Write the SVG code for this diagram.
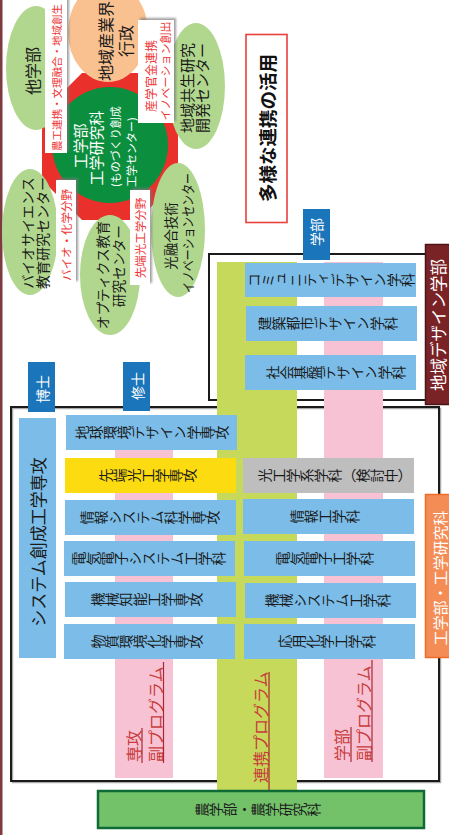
<svg xmlns="http://www.w3.org/2000/svg" width="449" height="835" viewBox="0 0 449 835">
<defs>
<style>
.j{font-family:"Noto Sans CJK JP","Noto Sans CJK SC",sans-serif;}
.v{writing-mode:vertical-rl;text-anchor:middle;font-size:14px;fill:#1a1a1a;}
.h{text-anchor:middle;dominant-baseline:central;}
.lg{fill:#b1d78e;}
.bx{fill:#7bbde8;}
.tab{fill:#1b75bb;}
.wl{fill:#fff;filter:url(#sh);}
.rt{fill:#ee3535;}
.pt{fill:#c83c3c;}
.ul{stroke:#a8282e;stroke-width:1.2;}
</style>
<filter id="sh" x="-30%" y="-10%" width="160%" height="120%">
<feDropShadow dx="2" dy="-2" stdDeviation="1.2" flood-color="#777" flood-opacity="0.7"/>
</filter>
</defs>
<rect x="0" y="0" width="449" height="835" fill="#fff"/>
<rect x="0" y="0" width="2.5" height="835" fill="#7d3a3f"/>

<g id="hub">
<polygon points="82,73 138,73 178,113 178,180 138,220 82,220 42,180 42,113" fill="#e9302a"/>
<circle cx="110" cy="145" r="58" fill="#0b8f3f"/>
<g class="j" fill="#fff">
<text class="h" font-size="15" transform="translate(79,146) rotate(-90)">工学部</text>
<text class="h" font-size="15" transform="translate(95,148) rotate(-90)">工学研究科</text>
<text font-size="11" dominant-baseline="central" transform="translate(115,187) rotate(-90)">(ものづくり創成</text>
<text font-size="11" dominant-baseline="central" transform="translate(131,187) rotate(-90)">工学センター)</text>
</g>
</g>

<g id="tagakubu">
<ellipse class="lg" cx="36" cy="68" rx="30" ry="62"/>
<text class="j h" font-size="16" fill="#1a1a1a" transform="translate(32,71) rotate(-90)">他学部</text>
</g>
<g id="chiiki-sangyo">
<ellipse cx="108" cy="32" rx="40" ry="50" fill="#f9c090"/>
<text class="j h" font-size="16" fill="#1a1a1a" transform="translate(115,41) rotate(-90)"><tspan x="0" y="-10">地域産業界</tspan><tspan x="0" y="10">行政</tspan></text>
</g>
<g id="kyosei">
<ellipse class="lg" cx="196" cy="86" rx="29" ry="63"/>
<text class="j h" font-size="15" fill="#1a1a1a" transform="translate(193.5,88) rotate(-90)"><tspan x="0" y="-7.5">地域共生研究</tspan><tspan x="0" y="7.5">開発センター</tspan></text>
</g>
<g id="bio">
<ellipse class="lg" cx="30" cy="232" rx="28" ry="63"/>
<text class="j h" font-size="14" fill="#1a1a1a" transform="translate(34.5,233) rotate(-90)"><tspan x="0" y="-7.5">バイオサイエンス</tspan><tspan x="0" y="7.5">教育研究センター</tspan></text>
</g>
<g id="optics">
<ellipse class="lg" cx="110" cy="275" rx="30" ry="60"/>
<text class="j" font-size="13.7" fill="#1a1a1a" text-anchor="end" dominant-baseline="central" transform="translate(110,221) rotate(-90)"><tspan x="0" y="-8">オプティクス教育</tspan><tspan x="-4" y="8">研究センター</tspan></text>
</g>
<g id="hikari">
<ellipse class="lg" cx="178" cy="230" rx="27" ry="67"/>
<text class="j h" font-size="13.5" fill="#1a1a1a" transform="translate(170,236) rotate(-90)">光融合技術</text>
<text class="j h" font-size="13.5" fill="#1a1a1a" textLength="120" lengthAdjust="spacingAndGlyphs" transform="translate(187,233) rotate(-90)">イノベーションセンター</text>
</g>

<g id="label-noko">
<rect class="wl" x="45" y="-4" width="22" height="157"/>
<text class="j rt" font-size="10.5" dominant-baseline="central" transform="translate(56,151) rotate(-90)">農工連携・文理融合・地域創生</text>
</g>
<g id="label-sangaku">
<rect class="wl" x="138" y="20" width="36" height="103"/>
<text class="j rt h" font-size="12" transform="translate(150,76) rotate(-90)">産学官金連携</text>
<text class="j rt h" font-size="11" transform="translate(165,71) rotate(-90)">イノベーション創出</text>
</g>
<g id="label-bio">
<rect class="wl" x="56" y="180" width="20" height="103"/>
<text class="j rt h" font-size="11.5" transform="translate(66,235) rotate(-90)">バイオ・化学分野</text>
</g>
<g id="label-senkou">
<rect class="wl" x="130" y="190" width="20" height="95"/>
<text class="j rt h" font-size="11.5" transform="translate(140,238) rotate(-90)">先端光工学分野</text>
</g>

<g id="title">
<rect x="246" y="34.5" width="41" height="188" fill="#fff" stroke="#e8403a" stroke-width="1.6"/>
<text class="j h" font-size="18.5" font-weight="bold" fill="#111" transform="translate(267,128) rotate(-90)">多様な連携の活用</text>
</g>

<g id="frames">
<rect x="209" y="254" width="218" height="146" fill="none" stroke="#1a1a1a" stroke-width="2"/>
<rect x="12.5" y="408.5" width="428" height="374" fill="none" stroke="#aaa" stroke-width="1.5"/>
<rect x="11" y="407" width="428" height="374" fill="none" stroke="#1a1a1a" stroke-width="2"/>
</g>

<g id="renkei-program">
<rect x="217" y="262" width="80" height="528" fill="#c6d95a"/>
<text class="j pt" font-size="16" dominant-baseline="central" transform="translate(260,783) rotate(-90)">連携プログラム</text>
<line class="ul" x1="269" y1="672" x2="269" y2="790"/>
</g>
<g id="gakubu-program">
<rect x="324" y="262" width="59" height="516" fill="#f7c3d4"/>
<text class="j pt" font-size="16" dominant-baseline="central" transform="translate(341,761) rotate(-90)">学部</text>
<text class="j pt" font-size="16" dominant-baseline="central" transform="translate(363,761) rotate(-90)">副プログラム</text>
<line class="ul" x1="351" y1="727" x2="351" y2="762"/>
<line class="ul" x1="372" y1="660" x2="372" y2="762"/>
</g>
<g id="senko-program">
<rect x="115" y="415" width="58" height="363" fill="#f7c3d4"/>
<text class="j pt" font-size="16" dominant-baseline="central" transform="translate(133,762) rotate(-90)">専攻</text>
<text class="j pt" font-size="16" dominant-baseline="central" transform="translate(155,762) rotate(-90)">副プログラム</text>
<line class="ul" x1="142" y1="728" x2="142" y2="763"/>
<line class="ul" x1="163.5" y1="662" x2="163.5" y2="763"/>
</g>

<g id="tab-gakubu"><rect class="tab" x="303" y="209" width="27" height="51"/><text class="j h" font-size="14" fill="#fff" transform="translate(316,232) rotate(-90)">学部</text></g>
<g id="tab-hakase"><rect class="tab" x="28" y="362" width="27" height="50"/><text class="j h" font-size="14" fill="#fff" transform="translate(41.5,389) rotate(-90)">博士</text></g>
<g id="tab-shushi"><rect class="tab" x="123" y="362" width="27" height="49"/><text class="j h" font-size="14" fill="#fff" transform="translate(136.5,386) rotate(-90)">修士</text></g>

<g id="community"><rect class="bx" x="245" y="263" width="171" height="34"/><text class="j v" transform="translate(331,280) rotate(-90)">コミュニティデザイン学科</text></g>
<g id="kenchiku"><rect class="bx" x="246" y="306" width="171" height="35"/><text class="j v" transform="translate(328,323.5) rotate(-90)">建築都市デザイン学科</text></g>
<g id="shakai"><rect class="bx" x="245" y="355" width="171" height="35"/><text class="j v" transform="translate(336,372.5) rotate(-90)">社会基盤デザイン学科</text></g>

<g id="system"><rect class="bx" x="19" y="418" width="37" height="240"/><text class="j h" font-size="17" fill="#1a1a1a" transform="translate(37.5,542) rotate(-90)">システム創成工学専攻</text></g>

<g id="chikyu"><rect class="bx" x="66" y="415" width="171" height="35"/><text class="j v" transform="translate(152,432.5) rotate(-90)">地球環境デザイン学専攻</text></g>
<g id="senkou"><rect x="65" y="458" width="171" height="35" fill="#fcdc10"/><text class="j v" transform="translate(148,475.5) rotate(-90)">先端光工学専攻</text></g>
<g id="joho-sys"><rect class="bx" x="65" y="500" width="171" height="35"/><text class="j v" transform="translate(150,517.5) rotate(-90)">情報システム科学専攻</text></g>
<g id="denki-sys"><rect class="bx" x="64" y="541" width="171" height="35"/><text class="j v" transform="translate(149,558.5) rotate(-90)">電気電子システム工学科</text></g>
<g id="kikai-chino"><rect class="bx" x="65" y="582" width="171" height="35"/><text class="j v" transform="translate(147,599.5) rotate(-90)">機械知能工学専攻</text></g>
<g id="busshitsu"><rect class="bx" x="64" y="624" width="171" height="35"/><text class="j v" transform="translate(147,641.5) rotate(-90)">物質環境化学専攻</text></g>

<g id="hikari-gakka"><rect x="243" y="458" width="171" height="35" fill="#bebebf"/><text class="j v" font-size="13.4" transform="translate(335,475.5) rotate(-90)">光工学系学科（検討中）</text></g>
<g id="joho"><rect class="bx" x="243" y="499" width="171" height="35"/><text class="j v" transform="translate(325,516.5) rotate(-90)">情報工学科</text></g>
<g id="denki"><rect class="bx" x="244" y="541" width="171" height="35"/><text class="j v" transform="translate(325,558.5) rotate(-90)">電気電子工学科</text></g>
<g id="kikai"><rect class="bx" x="245" y="583" width="171" height="35"/><text class="j v" transform="translate(328,600.5) rotate(-90)">機械システム工学科</text></g>
<g id="oyo"><rect class="bx" x="244" y="624" width="171" height="35"/><text class="j v" transform="translate(327,641.5) rotate(-90)">応用化学工学科</text></g>

<g id="design-faculty"><rect x="425.5" y="244.5" width="25" height="160" fill="#7a2327" stroke="#4b1416" stroke-width="1.5"/><text class="j h" font-size="16.5" fill="#fff" transform="translate(438,325) rotate(-90)">地域デザイン学部</text></g>
<g id="eng-faculty"><rect x="425.5" y="494.5" width="25" height="163" fill="#f48c55" stroke="#ef6c2a" stroke-width="1.5"/><text class="j h" font-size="15" fill="#fff" transform="translate(439.5,578) rotate(-90)">工学部・工学研究科</text></g>

<g id="agri"><rect x="98" y="791" width="326" height="37" fill="#73c26a" stroke="#0f6b35" stroke-width="2.5"/><text class="j v" font-size="19.5" transform="translate(258,809.5) rotate(-90)">農学部・農学研究科</text></g>

<g id="connectors"></g>
</svg>
